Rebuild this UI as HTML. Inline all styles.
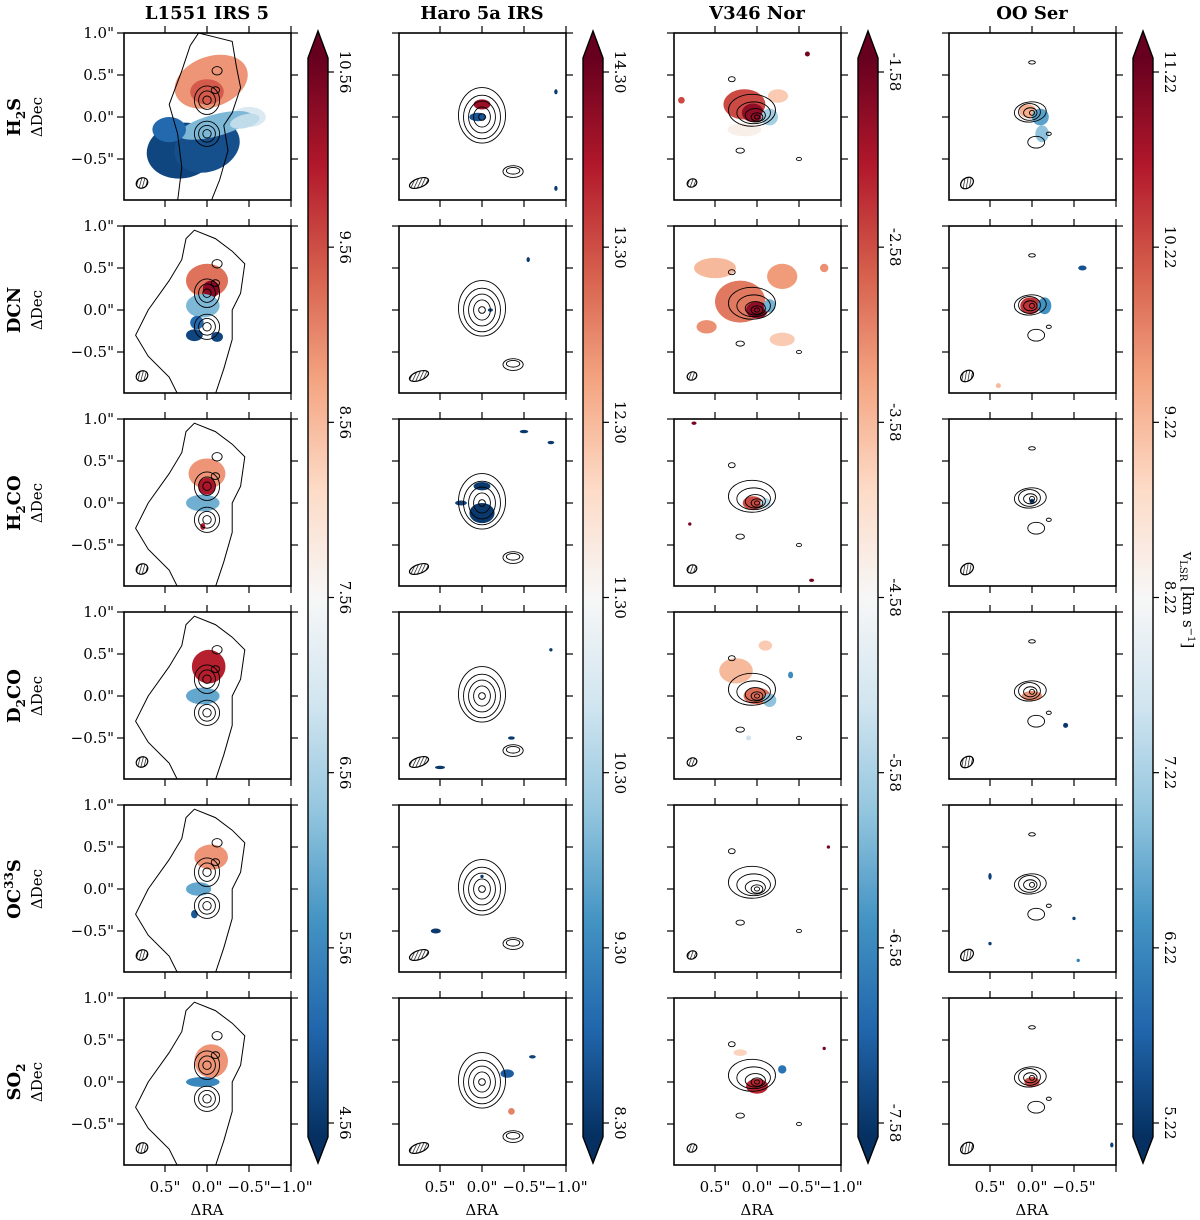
<!DOCTYPE html>
<html><head><meta charset="utf-8">
<style>
html,body{margin:0;padding:0;background:#fff;}
svg{display:block;font-family:"DejaVu Serif","Liberation Serif",serif;}
</style></head>
<body>
<svg id="fig" width="1200" height="1220" viewBox="0 0 1200 1220" xmlns="http://www.w3.org/2000/svg">
<defs>
<linearGradient id="rdbu" x1="0" y1="1" x2="0" y2="0">
<stop offset="0" stop-color="#053061"/><stop offset="0.1" stop-color="#2166ac"/><stop offset="0.2" stop-color="#4393c3"/><stop offset="0.3" stop-color="#92c5de"/><stop offset="0.4" stop-color="#d1e5f0"/><stop offset="0.5" stop-color="#f7f7f7"/><stop offset="0.6" stop-color="#fddbc7"/><stop offset="0.7" stop-color="#f4a582"/><stop offset="0.8" stop-color="#d6604d"/><stop offset="0.9" stop-color="#b2182b"/><stop offset="1" stop-color="#67001f"/>
</linearGradient>
<pattern id="hatch" width="3" height="3" patternUnits="userSpaceOnUse" patternTransform="rotate(45)">
<rect width="3" height="3" fill="#fff"/><line x1="0" y1="0" x2="0" y2="3" stroke="#000" stroke-width="1.3"/>
</pattern>
</defs>
</svg>
<script>
const titles=["L1551 IRS 5","Haro 5a IRS","V346 Nor","OO Ser"];
const molecules=[["H","2","S"],["DCN","",""],["H","2","CO"],["D","2","CO"],["OC","33","S"],["SO","2",""]];
const vmin=[4.56,8.30,-7.58,5.22];
const vmax=[10.56,14.30,-1.58,11.22];
const cbTicks=[[10.56,9.56,8.56,7.56,6.56,5.56,4.56],[14.30,13.30,12.30,11.30,10.30,9.30,8.30],[-1.58,-2.58,-3.58,-4.58,-5.58,-6.58,-7.58],[11.22,10.22,9.22,8.22,7.22,6.22,5.22]];
const decTicks=[1.0,0.5,0.0,-0.5];
const raTicks=[0.5,0.0,-0.5,-1.0];
const raLabels=[['0.5"','0.0"','\u22120.5"','\u22121.0"'],['0.5"','0.0"','\u22120.5"','\u22121.0"'],['0.5"','0.0"','\u22120.5"','\u22121.0"'],['0.5"','0.0"','\u22120.5"','']];
// blobs: [ra, dec, rx, ry, rot, vLSR]  per column, per row
const blobs=[
 [
  [[-0.05,0.42,0.45,0.3,-20,8.9],[0.0,0.3,0.2,0.15,0,9.4],[-0.5,0.0,0.2,0.12,0,7.1],[0.3,-0.4,0.42,0.33,-10,4.8],[0.0,-0.35,0.4,0.3,-20,4.9],[-0.1,-0.1,0.45,0.13,-15,6.2],[0.45,-0.15,0.2,0.15,0,5.2],[-0.45,-0.05,0.18,0.08,-15,6.8]],
  [[0.0,0.35,0.25,0.2,0,9.2],[-0.05,0.25,0.1,0.1,0,10.3],[0.05,0.05,0.2,0.14,0,6.2],[0.15,-0.3,0.1,0.07,0,4.8],[-0.12,-0.32,0.07,0.06,0,4.8],[0.12,-0.15,0.08,0.08,0,5.2]],
  [[0.0,0.35,0.22,0.18,0,8.9],[0.0,0.2,0.1,0.1,0,10.0],[0.05,0.0,0.2,0.1,0,6.1],[0.05,-0.28,0.03,0.04,0,10.0]],
  [[-0.02,0.35,0.2,0.2,0,9.9],[0.05,0.0,0.2,0.1,0,6.0]],
  [[-0.05,0.38,0.2,0.15,0,8.9],[0.1,0.0,0.15,0.08,0,6.0],[0.15,-0.3,0.04,0.05,0,5.0]],
  [[-0.05,0.25,0.2,0.2,0,8.9],[0.05,0.0,0.2,0.06,0,5.6]]
 ],
 [
  [[0.0,0.15,0.1,0.06,0,13.9],[0.05,0.0,0.1,0.05,0,8.7],[-0.88,0.3,0.02,0.03,0,8.4],[-0.88,-0.85,0.02,0.03,0,8.4]],
  [[-0.55,0.6,0.02,0.03,0,8.4],[-0.1,0.0,0.03,0.02,0,8.5]],
  [[0.0,-0.12,0.15,0.12,0,8.4],[0.0,0.2,0.1,0.05,0,8.4],[0.25,0.0,0.07,0.03,0,8.5],[-0.5,0.85,0.05,0.02,0,8.4],[-0.82,0.72,0.04,0.02,0,8.4]],
  [[-0.82,0.55,0.02,0.02,0,8.4],[0.5,-0.85,0.06,0.02,0,8.4],[-0.35,-0.5,0.04,0.02,0,8.4]],
  [[0.55,-0.5,0.06,0.03,0,8.4],[0.0,0.15,0.02,0.02,0,8.4]],
  [[-0.3,0.1,0.08,0.05,0,8.8],[-0.35,-0.35,0.04,0.04,0,12.8],[-0.6,0.3,0.04,0.02,0,8.5]]
 ],
 [
  [[0.15,0.15,0.25,0.18,0,-2.6],[0.05,0.05,0.13,0.11,0,-1.9],[-0.15,0.0,0.1,0.1,0,-5.6],[0.15,-0.15,0.2,0.08,0,-4.4],[-0.25,0.25,0.12,0.08,0,-3.8],[0.9,0.2,0.04,0.04,0,-2.6],[-0.6,0.75,0.03,0.03,0,-1.7]],
  [[0.2,0.1,0.3,0.25,0,-3.0],[0.5,0.5,0.25,0.12,0,-3.6],[-0.3,0.4,0.18,0.15,0,-3.3],[0.0,0.0,0.13,0.1,0,-1.9],[-0.15,0.05,0.07,0.08,0,-6.0],[-0.3,-0.35,0.15,0.08,0,-3.8],[0.6,-0.2,0.12,0.08,0,-3.2],[-0.8,0.5,0.05,0.05,0,-3.2]],
  [[0.05,0.0,0.12,0.08,0,-2.6],[-0.1,0.0,0.06,0.06,0,-5.4],[0.75,0.95,0.03,0.02,0,-1.7],[-0.65,-0.92,0.03,0.02,0,-1.7],[0.8,-0.25,0.02,0.02,0,-1.7]],
  [[0.0,0.0,0.16,0.1,0,-2.9],[-0.15,-0.05,0.08,0.08,0,-5.8],[0.25,0.3,0.2,0.15,0,-3.6],[-0.1,0.6,0.08,0.06,0,-3.8],[-0.4,0.25,0.03,0.04,0,-6.5],[0.1,-0.5,0.03,0.03,0,-5.2]],
  [[-0.85,0.5,0.02,0.02,0,-1.7]],
  [[0.0,-0.05,0.13,0.09,0,-2.3],[-0.3,0.15,0.05,0.05,0,-6.8],[-0.8,0.4,0.02,0.02,0,-1.7],[0.2,0.35,0.08,0.04,0,-3.9]]
 ],
 [
  [[0.05,0.07,0.1,0.08,0,9.3],[-0.1,0.0,0.1,0.1,0,6.6],[-0.12,-0.2,0.08,0.1,0,7.0]],
  [[0.02,0.05,0.12,0.1,0,10.4],[-0.15,0.05,0.08,0.1,0,6.4],[-0.6,0.5,0.05,0.03,0,5.6],[0.4,-0.9,0.03,0.03,0,9.2]],
  [[0.0,0.02,0.03,0.03,0,5.4]],
  [[0.0,0.0,0.12,0.06,0,9.6],[-0.4,-0.35,0.03,0.03,0,5.3]],
  [[0.5,0.15,0.02,0.04,0,5.4],[-0.5,-0.35,0.02,0.02,0,5.4],[0.5,-0.65,0.02,0.02,0,5.4],[-0.55,-0.85,0.02,0.02,0,6.2]],
  [[0.0,0.0,0.09,0.06,0,10.2],[-0.95,-0.75,0.02,0.03,0,5.4]]
 ]
];
// contours per column: ellipses [ra, dec, rx, ry, rot]
const contours=[
 [[0,0.2,0.05,0.05,0],[0,0.2,0.1,0.11,0],[0,0.2,0.15,0.17,0],[0,-0.2,0.05,0.05,0],[0,-0.2,0.1,0.1,0],[0,-0.2,0.15,0.15,0],[-0.12,0.55,0.06,0.05,0],[-0.1,0.32,0.05,0.04,0]],
 [[0,0,0.04,0.04,0],[0,0,0.1,0.12,0],[0,0,0.16,0.19,0],[0,0,0.22,0.26,0],[0,0.02,0.28,0.33,0],[-0.37,-0.65,0.12,0.07,0],[-0.37,-0.64,0.08,0.04,0]],
 [[0,0,0.03,0.025,0],[0,0,0.07,0.05,0],[0.02,0.02,0.12,0.08,0],[0.04,0.05,0.2,0.13,0],[0.06,0.08,0.28,0.19,0],[0.2,-0.4,0.05,0.03,0],[-0.5,-0.5,0.03,0.02,0],[0.3,0.45,0.04,0.03,0]],
 [[0,0.05,0.03,0.03,0],[0.02,0.05,0.08,0.06,0],[0.03,0.06,0.13,0.1,0],[0.02,0.06,0.19,0.12,-5],[-0.05,-0.3,0.1,0.07,0],[-0.2,-0.2,0.03,0.02,0],[0,0.65,0.04,0.02,0]]
];
// outer irregular contour for L1551 (ra, dec)
const outerL1=[[0.1,1.0],[-0.1,0.95],[-0.3,0.9],[-0.35,0.6],[-0.4,0.35],[-0.3,0.05],[-0.2,-0.1],[-0.25,-0.4],[-0.15,-0.75],[-0.05,-1.0],[0.35,-1.0],[0.3,-0.6],[0.35,-0.2],[0.45,0.15],[0.3,0.55],[0.2,0.85]];
const outerL=[[0.15,0.95],[-0.1,0.85],[-0.3,0.7],[-0.45,0.55],[-0.4,0.2],[-0.3,0.0],[-0.3,-0.35],[-0.2,-0.7],[-0.1,-1.0],[0.35,-1.0],[0.45,-0.8],[0.7,-0.55],[0.85,-0.3],[0.7,0.0],[0.45,0.35],[0.3,0.6],[0.25,0.85]];

const svg=document.getElementById('fig');
const NS='http://www.w3.org/2000/svg';
function mk(tag,attrs,parent){const e=document.createElementNS(NS,tag);for(const k in attrs)e.setAttribute(k,attrs[k]);(parent||svg).appendChild(e);return e;}
const stops=[[0,[5,48,97]],[0.1,[33,102,172]],[0.2,[67,147,195]],[0.3,[146,197,222]],[0.4,[209,229,240]],[0.5,[247,247,247]],[0.6,[253,219,199]],[0.7,[244,165,130]],[0.8,[214,96,77]],[0.9,[178,24,43]],[1,[103,0,31]]];
function cmap(t){t=Math.max(0,Math.min(1,t));for(let i=1;i<stops.length;i++){if(t<=stops[i][0]){const a=stops[i-1],b=stops[i];const f=(t-a[0])/(b[0]-a[0]);const c=a[1].map((v,j)=>Math.round(v+(b[1][j]-v)*f));return 'rgb('+c.join(',')+')';}}return 'rgb(103,0,31)';}

const colX=[124,399,674,949], rowY=[33,226,419,612,805,998], PW=167, PH=167, S=84;
const cbX=[308,583,858,1133], cbW=20;
function X(c,ra){return colX[c]+83-ra*S;}
function Y(r,dec){return rowY[r]+84-dec*S;}

for(let c=0;c<4;c++){
  const t=mk('text',{x:colX[c]+83,y:19,'text-anchor':'middle','font-size':18,'font-weight':'bold'});
  
  
  t.textContent=titles[c];
  for(let r=0;r<6;r++){
    const g=mk('g',{});
    
    
    const cp=mk('clipPath',{id:'cp'+c+r},g);
    mk('rect',{x:colX[c],y:rowY[r],width:PW,height:PH},cp);
    const inner=mk('g',{'clip-path':'url(#cp'+c+r+')'},g);
    blobs[c][r].forEach(b=>{
      const e=mk('ellipse',{cx:X(c,b[0]),cy:Y(r,b[1]),rx:b[2]*S,ry:b[3]*S,transform:'rotate('+b[4]+' '+X(c,b[0])+' '+Y(r,b[1])+')',fill:cmap((b[5]-vmin[c])/(vmax[c]-vmin[c]))},inner);
      
      
    });
    if(c===0){
      const pts=(r===0?outerL1:outerL).map(p=>X(c,p[0])+','+Y(r,p[1])).join(' ');
      const pg=mk('polygon',{points:pts,fill:'none',stroke:'#000','stroke-width':1},inner);
      
      
    }
    contours[c].forEach(k=>{
      const e=mk('ellipse',{cx:X(c,k[0]),cy:Y(r,k[1]),rx:k[2]*S,ry:k[3]*S,transform:'rotate('+k[4]+' '+X(c,k[0])+' '+Y(r,k[1])+')',fill:'none',stroke:'#000','stroke-width':0.9},inner);
      
      
    });
    const bw=[6,10,5,7][c], bh=[5,4.5,4,5][c], br=[-30,-20,-25,-35][c];
    const bx=colX[c]+18+(c===1?2:0), by=rowY[r]+150;
    const be=mk('ellipse',{cx:bx,cy:by,rx:bw,ry:bh,transform:'rotate('+br+' '+bx+' '+by+')',fill:'url(#hatch)',stroke:'#000','stroke-width':1.2},g);
    
    
    const fr=mk('rect',{x:colX[c],y:rowY[r],width:PW,height:PH,fill:'none',stroke:'#000','stroke-width':1.6},g);
    
    
    decTicks.forEach(d=>{const y=Y(r,d);
      mk('line',{x1:colX[c]-7,y1:y,x2:colX[c],y2:y,stroke:'#000','stroke-width':1.2},g);
      mk('line',{x1:colX[c]+PW,y1:y,x2:colX[c]+PW+7,y2:y,stroke:'#000','stroke-width':1.2},g);
      if(c===0){const tl=mk('text',{x:colX[c]-10,y:y+5,'text-anchor':'end','font-size':15},g);
        
        
        tl.textContent=(d<0?'\u2212':'')+Math.abs(d).toFixed(1)+'"';}
    });
    raTicks.forEach(a=>{const x=X(c,a);
      mk('line',{x1:x,y1:rowY[r]-7,x2:x,y2:rowY[r],stroke:'#000','stroke-width':1.2},g);
      mk('line',{x1:x,y1:rowY[r]+PH,x2:x,y2:rowY[r]+PH+7,stroke:'#000','stroke-width':1.2},g);
    });
  }
  raTicks.forEach((a,i)=>{
    const tl=mk('text',{x:X(c,a),y:1192,'text-anchor':'middle','font-size':15});
    
    
    tl.textContent=raLabels[c][i];
  });
  const xl=mk('text',{x:colX[c]+83,y:1215,'text-anchor':'middle','font-size':15});
  
  
  xl.textContent='\u0394RA';
  const cg=mk('g',{});
  
  
  const x0=cbX[c], top=58, bot=1137;
  mk('rect',{x:x0,y:top,width:cbW,height:bot-top,fill:'url(#rdbu)'},cg);
  mk('polygon',{points:x0+','+top+' '+(x0+cbW/2)+',31 '+(x0+cbW)+','+top,fill:'#67001f'},cg);
  mk('polygon',{points:x0+','+bot+' '+(x0+cbW/2)+',1163 '+(x0+cbW)+','+bot,fill:'#053061'},cg);
  mk('polygon',{points:x0+','+top+' '+(x0+cbW/2)+',31 '+(x0+cbW)+','+top+' '+(x0+cbW)+','+bot+' '+(x0+cbW/2)+',1163 '+x0+','+bot,fill:'none',stroke:'#000','stroke-width':1.4},cg);
  const span=vmax[c]-vmin[c];
  cbTicks[c].forEach(v=>{
    const yy=top+(vmax[c]-v)/span*(bot-top-28)+14;
    mk('line',{x1:x0+cbW,y1:yy,x2:x0+cbW+6,y2:yy,stroke:'#000','stroke-width':1.2},cg);
    const tl=mk('text',{x:0,y:0,'text-anchor':'middle','font-size':15,transform:'translate('+(x0+cbW+12)+','+yy+') rotate(90)'},cg);
    
    
    tl.textContent=v.toFixed(2);
  });
}
const cbl=mk('text',{x:0,y:0,'text-anchor':'middle','font-size':15,transform:'translate(1183,600) rotate(90)'});


cbl.innerHTML='v<tspan font-size="10" dy="3">LSR</tspan><tspan dy="-3"> [km s</tspan><tspan font-size="10" dy="-5">\u22121</tspan><tspan dy="5">]</tspan>';
for(let r=0;r<6;r++){
  const cy=rowY[r]+84;
  const m=molecules[r];
  const t=mk('text',{x:0,y:0,'text-anchor':'middle','font-size':18,'font-weight':'bold',transform:'translate(20,'+cy+') rotate(-90)'});
  
  
  let html=m[0];
  if(m[1]){ if(m[1]==='33') html+='<tspan font-size="12" dy="-7">33</tspan><tspan dy="7">'+m[2]+'</tspan>'; else html+='<tspan font-size="12" dy="5">'+m[1]+'</tspan><tspan dy="-5">'+m[2]+'</tspan>'; }
  t.innerHTML=html;
  const d=mk('text',{x:0,y:0,'text-anchor':'middle','font-size':15,transform:'translate(42,'+cy+') rotate(-90)'});
  
  
  d.textContent='\u0394Dec';
}
</script>
</body></html>
